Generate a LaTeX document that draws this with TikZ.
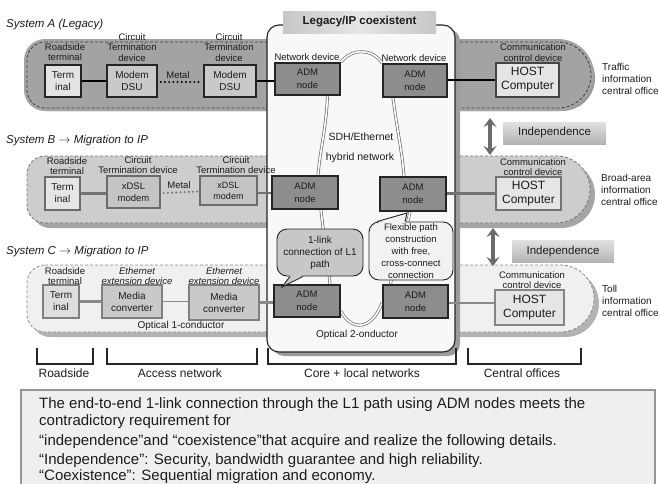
\documentclass[tikz,border=0pt]{standalone}
\usepackage{fontspec}
\setmainfont{Liberation Sans}
\usetikzlibrary{calc,arrows.meta}

\definecolor{bandAfill}{HTML}{A3A3A3}
\definecolor{bandAshade}{HTML}{969696}
\definecolor{bandBfill}{HTML}{CDCDCD}
\definecolor{bandBshade}{HTML}{A5A5A5}
\definecolor{bandCfill}{HTML}{F0F0F0}
\definecolor{bandCshade}{HTML}{B3B3B3}
\definecolor{panelfill}{HTML}{F8F8F8}
\definecolor{panelshade}{HTML}{9C9C9C}
\definecolor{admfill}{HTML}{8D8D8D}
\definecolor{edgedark}{HTML}{242424}
\definecolor{inkdark}{HTML}{1C1C1C}
\definecolor{wiregray}{HTML}{727272}
\definecolor{wirelight}{HTML}{8A8A8A}
\definecolor{linkgray}{HTML}{6E6E6E}
\definecolor{notefill}{HTML}{EFEFEF}
\definecolor{noteedge}{HTML}{959595}

\begin{document}
\begin{tikzpicture}[x=1pt,y=-1pt,
  every node/.style={text=inkdark},
  box/.style={rectangle, inner sep=0pt, align=center, line width=1.3pt},
  termA/.style={box, fill=black!11, draw=edgedark, font=\fontsize{10}{12}\selectfont},
  modA/.style={box, fill=black!21, draw=edgedark, line width=1.5pt, font=\fontsize{10}{11.5}\selectfont},
  admbox/.style={box, fill=admfill, draw=edgedark, line width=1.5pt, font=\fontsize{9.5}{13}\selectfont},
  hostbox/.style={box, fill=black!10, draw=edgedark!85, font=\fontsize{12}{14}\selectfont},
  termB/.style={box, fill=black!10, draw=black!58, font=\fontsize{10}{12}\selectfont},
  dslB/.style={box, fill=black!23, draw=black!58, font=\fontsize{9.5}{11.5}\selectfont},
  hostB/.style={hostbox, draw=black!55},
  termC/.style={box, fill=black!13, draw=black!50, font=\fontsize{10}{12}\selectfont},
  mcC/.style={box, fill=black!21, draw=black!50, font=\fontsize{10}{12}\selectfont},
  hostC/.style={hostbox, draw=black!48},
  lblsm/.style={inner sep=0pt, align=center, font=\fontsize{9.5}{10.5}\selectfont},
  lblit/.style={lblsm, font=\fontsize{9.5}{10}\selectfont\itshape},
  office/.style={inner sep=0pt, anchor=west, align=left, font=\fontsize{10}{11.8}\selectfont},
  systitle/.style={inner sep=0pt, anchor=west, font=\fontsize{11.5}{13}\selectfont\itshape},
  midlbl/.style={inner sep=0pt, font=\fontsize{10.5}{12}\selectfont},
  zonelbl/.style={inner sep=0pt, font=\fontsize{12}{14}\selectfont},
  notetext/.style={inner sep=0pt, anchor=base west, font=\fontsize{15}{17}\selectfont},
  banddash/.style={dash pattern=on 3pt off 2pt, line width=0.8pt},
  wireA/.style={line width=2.6pt, draw=black},
  wireB/.style={line width=2.6pt, draw=wiregray},
  wireC/.style={line width=2.6pt, draw=wirelight},
  dotwire/.style={line width=2.2pt, line cap=round, dash pattern=on 0pt off 4.2pt},
  link/.style={draw=linkgray, line width=0.7pt, double=white, double distance=1.6pt},
  indarrow/.style={draw=black!58, line width=3.4pt,
    {Stealth[length=9pt,width=13pt,inset=3.5pt]}-{Stealth[length=9pt,width=13pt,inset=3.5pt]}},
  indbox/.style={rectangle, inner sep=0pt, top color=black!12, bottom color=black!30,
    font=\fontsize{11.5}{13}\selectfont},
  calloutA/.style={rectangle, rounded corners=10pt, align=center, inner sep=0pt,
    fill=black!22, draw=edgedark, line width=0.9pt, font=\fontsize{10}{12}\selectfont},
  calloutB/.style={calloutA, fill=black!5, font=\fontsize{9.5}{12}\selectfont},
  bracket/.style={line width=1.5pt, draw=black!85}
]
\useasboundingbox (0,0) rectangle (659,483);

% ---------- system bands: shadow, body, dashed rim ----------
\begin{scope}[shift={(4,3)}]
  \fill[bandAshade] (45,42) -- (558,42) arc[start angle=-90,end angle=90,radius=33]
    -- (45,108) arc[start angle=90,end angle=180,radius=18]
    -- (27,60) arc[start angle=180,end angle=270,radius=18] -- cycle;
\end{scope}
\fill[bandAfill] (45,39) -- (558,39) arc[start angle=-90,end angle=90,radius=36]
    -- (45,111) arc[start angle=90,end angle=180,radius=21]
    -- (24,60) arc[start angle=180,end angle=270,radius=21] -- cycle;
\draw[banddash, draw=black!75] (45,42) -- (558,42) arc[start angle=-90,end angle=90,radius=33]
    -- (45,108) arc[start angle=90,end angle=180,radius=18]
    -- (27,60) arc[start angle=180,end angle=270,radius=18] -- cycle;

\begin{scope}[shift={(5,5)}]
  \fill[bandBshade] (45,156) -- (556.5,156) arc[start angle=-90,end angle=90,radius=33.5]
    -- (45,223) arc[start angle=90,end angle=180,radius=18]
    -- (27,174) arc[start angle=180,end angle=270,radius=18] -- cycle;
\end{scope}
\fill[bandBfill] (45,156) -- (556.5,156) arc[start angle=-90,end angle=90,radius=33.5]
    -- (45,223) arc[start angle=90,end angle=180,radius=18]
    -- (27,174) arc[start angle=180,end angle=270,radius=18] -- cycle;
\draw[banddash, draw=black!55] (45,156) -- (556.5,156) arc[start angle=-90,end angle=90,radius=33.5]
    -- (45,223) arc[start angle=90,end angle=180,radius=18]
    -- (27,174) arc[start angle=180,end angle=270,radius=18] -- cycle;

\begin{scope}[shift={(5,5)}]
  \fill[bandCshade] (45,265) -- (560.5,265) arc[start angle=-90,end angle=90,radius=33.5]
    -- (45,332) arc[start angle=90,end angle=180,radius=18]
    -- (27,283) arc[start angle=180,end angle=270,radius=18] -- cycle;
\end{scope}
\fill[bandCfill] (45,265) -- (560.5,265) arc[start angle=-90,end angle=90,radius=33.5]
    -- (45,332) arc[start angle=90,end angle=180,radius=18]
    -- (27,283) arc[start angle=180,end angle=270,radius=18] -- cycle;
\draw[banddash, draw=black!45] (45,265) -- (560.5,265) arc[start angle=-90,end angle=90,radius=33.5]
    -- (45,332) arc[start angle=90,end angle=180,radius=18]
    -- (27,283) arc[start angle=180,end angle=270,radius=18] -- cycle;

% ---------- central coexistence panel ----------
\fill[panelshade, rounded corners=12pt] (272,29) rectangle (460,356);
\node[rectangle, rounded corners=12pt, fill=panelfill, draw=edgedark, line width=1.1pt,
  minimum width=188pt, minimum height=327pt, inner sep=0pt] (panel) at (361,188.5) {};
\node[rectangle, inner sep=0pt, minimum width=153pt, minimum height=22pt,
  left color=black!22, right color=black!22, middle color=black!10,
  font=\fontsize{11.5}{13}\bfseries] (paneltitle) at (359.5,22) {Legacy/IP coexistent};

% ---------- system titles ----------
\node[systitle] (sysA) at (6,25) {System A (Legacy)};
\node[systitle] (sysB) at (6,141) {System B $\rightarrow$ Migration to IP};
\node[systitle] (sysC) at (6,252) {System C $\rightarrow$ Migration to IP};

% ---------- ADM nodes ----------
\node[admbox, minimum width=65pt, minimum height=32pt] (admAL) at (307.5,79) {ADM\\node};
\node[admbox, minimum width=64pt, minimum height=33pt] (admAR) at (415,80.5) {ADM\\node};
\node[admbox, minimum width=66pt, minimum height=33pt] (admBL) at (305,192.5) {ADM\\node};
\node[admbox, minimum width=66pt, minimum height=34pt] (admBR) at (413,194) {ADM\\node};
\node[admbox, minimum width=66pt, minimum height=32pt] (admCL) at (307,301) {ADM\\node};
\node[admbox, minimum width=65pt, minimum height=33pt] (admCR) at (415.5,301.5) {ADM\\node};

% ---------- SDH/Ethernet links (double lines) ----------
\draw[link] (admAL.north east) .. controls (352,48) and (372,48) .. (admAR.north west);
\draw[link] ($(admAL.south)+(20,0)$) .. controls (326,130) and (320,150) .. ($(admBL.north)+(13,0)$);
\draw[link] ($(admAR.south)+(-22,0)$) .. controls (397,130) and (402,150) .. ($(admBR.north)+(-9,0)$);
\draw[link] ($(admBL.south)+(16,0)$) .. controls (324,240) and (328,260) .. ($(admCL.north)+(23,0)$);
\draw[link] ($(admBR.south)+(-3,0)$) .. controls (404,240) and (394,260) .. ($(admCR.north)+(-25,0)$);
\draw[link] ($(admCL.east)+(0,10)$) .. controls (352,332) and (372,330) .. ($(admCR.west)+(0,1)$);
% node bodies again, over the link ends
\node[admbox, minimum width=65pt, minimum height=32pt] at (admAL) {ADM\\node};
\node[admbox, minimum width=64pt, minimum height=33pt] at (admAR) {ADM\\node};
\node[admbox, minimum width=66pt, minimum height=33pt] at (admBL) {ADM\\node};
\node[admbox, minimum width=66pt, minimum height=34pt] at (admBR) {ADM\\node};
\node[admbox, minimum width=66pt, minimum height=32pt] at (admCL) {ADM\\node};
\node[admbox, minimum width=65pt, minimum height=33pt] at (admCR) {ADM\\node};

% ---------- System A devices ----------
\node[termA, minimum width=36pt, minimum height=32pt] (termA) at (63,81) {Term\\inal};
\node[modA, minimum width=50pt, minimum height=32pt] (modA1) at (132,81) {Modem\\DSU};
\node[modA, minimum width=52pt, minimum height=32pt] (modA2) at (230,81) {Modem\\DSU};
\node[hostbox, minimum width=63pt, minimum height=34pt] (hostA) at (527.5,80) {HOST\\Computer};

\draw[wireA] (termA.east) -- (modA1.west |- termA.east);
\draw[wireA, dotwire] ($(modA1.east)+(3,1)$) -- ($(modA2.west)+(-2,1)$);
\draw[wireA] (modA2.east) -- (admAL.west |- modA2.east);
\draw[wireA] (admAR.east |- hostA.west) -- (hostA.west);

\node[lblsm] (lRoadA) at (65,52) {Roadside\\terminal};
\node[lblsm] (lCircA1) at (132,47.5) {Circuit\\Termination\\device};
\node[lblsm] (lCircA2) at (229,47.5) {Circuit\\Termination\\device};
\node[lblsm] (metalA) at (178,75) {Metal};
\node[lblsm] (lNetAL) at (307,57) {Network device};
\node[lblsm] (lNetAR) at (414,58) {Network device};
\node[lblsm] (lComA) at (533,52.5) {Communication\\control device};
\node[office] (offA) at (602,79) {Traffic\\information\\central office};

% ---------- System B devices ----------
\node[termB, minimum width=35pt, minimum height=33pt] (termB) at (62.5,193.5) {Term\\inal};
\node[dslB, minimum width=53pt, minimum height=32pt] (dslB1) at (133.5,192) {xDSL\\modem};
\node[dslB, minimum width=57pt, minimum height=29pt, font=\fontsize{9}{11}\selectfont] (dslB2) at (228.5,190.5) {xDSL\\modem};
\node[hostB, minimum width=65pt, minimum height=33pt] (hostB) at (528.5,193.5) {HOST\\Computer};

\draw[wireB] (termB.east) -- (dslB1.west |- termB.east);
\draw[wireB, dotwire] ($(dslB1.east)+(3,1)$) -- ($(dslB2.west)+(-2,1)$);
\draw[wireB] (dslB2.east |- 0,193) -- (admBL.west |- 0,193);
\draw[wireB] (admBR.east |- hostB.west) -- (hostB.west);

\node[lblsm] (lRoadB) at (67,166) {Roadside\\terminal};
\node[lblsm] (lCircB1) at (138,165) {Circuit\\Termination device};
\node[lblsm] (lCircB2) at (236,165) {Circuit\\Termination device};
\node[lblsm] (metalB) at (179,185.5) {Metal};
\node[lblsm] (lComB) at (533,167) {Communication\\control device};
\node[office] (offB) at (601,190) {Broad-area\\information\\central office};

% ---------- System C devices ----------
\node[termC, minimum width=36pt, minimum height=33pt] (termC) at (61,301.5) {Term\\inal};
\node[mcC, minimum width=60pt, minimum height=33pt] (mcC1) at (132,301.5) {Media\\converter};
\node[mcC, minimum width=70pt, minimum height=35pt] (mcC2) at (224,302.5) {Media\\converter};
\node[hostC, minimum width=69pt, minimum height=35pt] (hostC) at (529.5,307.5) {HOST\\Computer};

\draw[wireC] (termC.east) -- (mcC1.west |- termC.east);
\draw[line width=1pt, draw=wirelight] (mcC1.east) -- (mcC2.west |- mcC1.east);
\draw[wireC] (mcC2.east) -- (admCL.west |- mcC2.east);
\draw[wireC] (admCR.east |- 0,303) -- (hostC.west |- 0,303);

\node[lblsm] (lRoadC) at (65,276) {Roadside\\terminal};
\node[lblit] (lEthC1) at (137,276) {Ethernet\\extension device};
\node[lblit] (lEthC2) at (224,276) {Ethernet\\extension device};
\node[lblsm, font=\fontsize{10}{12}\selectfont] (optC) at (181,326) {Optical 1-conductor};
\node[lblsm] (lComC) at (532,280) {Communication\\control device};
\node[office] (offC) at (602,301) {Toll\\information\\central office};

% ---------- panel captions ----------
\node[midlbl] (sdh) at (361,137) {SDH/Ethernet};
\node[midlbl] (hyb) at (360,158) {hybrid network};
\node[lblsm, font=\fontsize{10}{12}\selectfont] (opt2) at (357,335) {Optical 2-onductor};

% ---------- callouts ----------
\node[calloutA, minimum width=86pt, minimum height=47pt] (noteL1) at (320,252.5) {1-link\\connection of L1\\path};
\coordinate (tipL1) at (282,287);
\fill[black!22] ($(noteL1.south)+(-30,-1.5)$) -- (tipL1) -- ($(noteL1.south)+(-17,-1.5)$) -- cycle;
\draw[edgedark, line width=0.9pt] ($(noteL1.south)+(-30,0)$) -- (tipL1) -- ($(noteL1.south)+(-17,0)$);

\node[calloutB, minimum width=84pt, minimum height=58pt] (noteFx) at (411,251) {Flexible path\\construction\\with free,\\cross-connect\\connection};
\coordinate (tipFx) at (407,213);
\fill[black!5] ($(noteFx.north)+(-34,1.5)$) -- (tipFx) -- ($(noteFx.north)+(-6,1.5)$) -- cycle;
\draw[edgedark, line width=0.9pt] ($(noteFx.north)+(-34,0)$) -- (tipFx) -- ($(noteFx.north)+(-6,0)$);

% ---------- independence markers ----------
\coordinate (indA1) at (490,118);
\coordinate (indA2) at (490,155);
\draw[indarrow] (indA1) -- (indA2);
\node[indbox, minimum width=103pt, minimum height=22pt] (indA) at (554.5,133) {Independence};
\coordinate (indB1) at (493,228);
\coordinate (indB2) at (493,266);
\draw[indarrow] (indB1) -- (indB2);
\node[indbox, minimum width=102pt, minimum height=22pt] (indB) at (563,251.5) {Independence};

% ---------- network zones ----------
\draw[bracket] (37,348) -- (37,364) -- (93,364) -- (93,348);
\draw[bracket] (107,348) -- (107,364) -- (257,364) -- (257,348);
\draw[bracket] (268,348) -- (268,364) -- (456,364) -- (456,348);
\draw[bracket] (468,348) -- (468,364) -- (581,364) -- (581,348);
\node[zonelbl] (zRoad) at (64,373) {Roadside};
\node[zonelbl] (zAcc) at (180,373) {Access network};
\node[zonelbl] (zCore) at (362,373) {Core + local networks};
\node[zonelbl] (zCent) at (522,373) {Central offices};

% ---------- summary box ----------
\draw[fill=notefill, draw=noteedge, line width=2pt] (21,390) rectangle (655,495);
\node[notetext] (sum1) at (39,408) {The end-to-end 1-link connection through the L1 path using ADM nodes meets the};
\node[notetext] (sum2) at (39,425) {contradictory requirement for};
\node[notetext] (sum3) at (39,445) {“independence”and “coexistence”that acquire and realize the following details.};
\node[notetext] (sum4) at (39,464) {“Independence”: Security, bandwidth guarantee and high reliability.};
\node[notetext] (sum5) at (39,480) {“Coexistence”: Sequential migration and economy.};
\end{tikzpicture}
\end{document}
